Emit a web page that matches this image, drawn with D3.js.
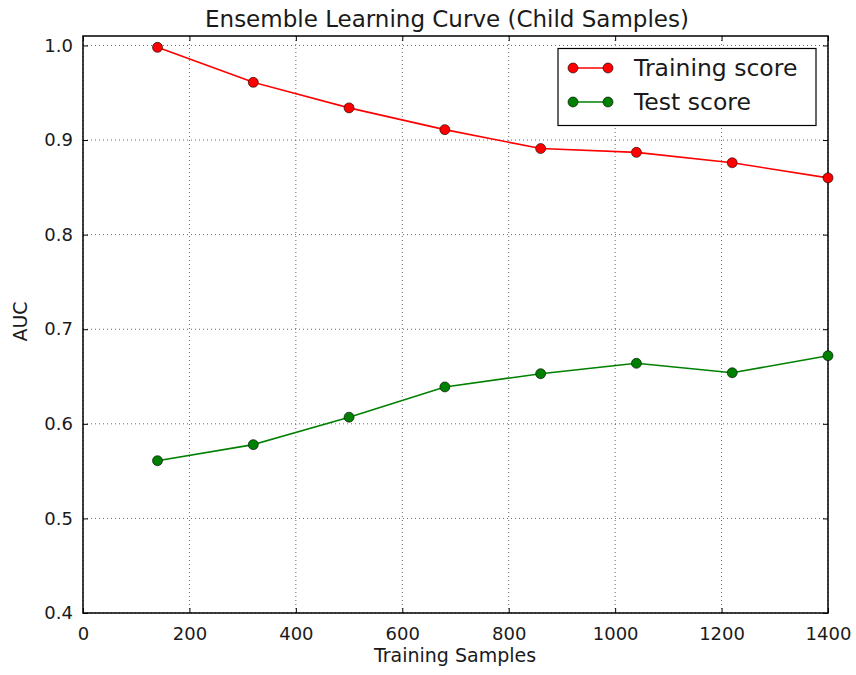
<!DOCTYPE html>
<html>
<head>
<meta charset="utf-8">
<script src="https://cdn.jsdelivr.net/npm/d3@7"></script>
<style>
  html, body { margin: 0; padding: 0; background: #fff; }
  svg { display: block; font-family: "DejaVu Sans", sans-serif; }
</style>
</head>
<body>
<svg id="chart" width="856" height="675"></svg>
<script>
const trainingSamples = [140, 320, 500, 680, 860, 1040, 1220, 1400];
const trainingScore = [0.998, 0.961, 0.934, 0.911, 0.891, 0.887, 0.876, 0.860];
const testScore = [0.561, 0.578, 0.607, 0.639, 0.653, 0.664, 0.654, 0.672];
const xTicks = [0, 200, 400, 600, 800, 1000, 1200, 1400];
const yTicks = [0.4, 0.5, 0.6, 0.7, 0.8, 0.9, 1.0];
const seriesNames = ["Training score", "Test score"];
const seriesColors = ["#ff0000", "#008000"];
const titleText = "Ensemble Learning Curve (Child Samples)";
const xLabel = "Training Samples";
const yLabel = "AUC";

const svg = d3.select("#chart");
const L = 83, R = 828, T = 36, B = 613;
const x = d3.scaleLinear().domain([0, 1400]).range([L, R]);
const y = d3.scaleLinear().domain([0.4, 1.01]).range([B, T]);

// grid
const grid = svg.append("g");
grid.selectAll("line.gx").data(xTicks).join("line")
  .attr("x1", d => x(d)).attr("x2", d => x(d)).attr("y1", T).attr("y2", B)
  .attr("stroke", "#000").attr("stroke-width", 0.6).attr("stroke-dasharray", "1,3");
grid.selectAll("line.gy").data(yTicks).join("line")
  .attr("y1", d => y(d)).attr("y2", d => y(d)).attr("x1", L).attr("x2", R)
  .attr("stroke", "#000").attr("stroke-width", 0.6).attr("stroke-dasharray", "1,3");

// axes with inward ticks on all sides
const tickLen = 5;
const xb = svg.append("g").attr("transform", `translate(0,${B})`)
  .call(d3.axisBottom(x).tickValues(xTicks).tickSizeInner(-tickLen).tickSizeOuter(0).tickPadding(10).tickFormat(d3.format("d")));
const xt = svg.append("g").attr("transform", `translate(0,${T})`)
  .call(d3.axisTop(x).tickValues(xTicks).tickSizeInner(-tickLen).tickSizeOuter(0).tickFormat(""));
const yl = svg.append("g").attr("transform", `translate(${L},0)`)
  .call(d3.axisLeft(y).tickValues(yTicks).tickSizeInner(-tickLen).tickSizeOuter(0).tickPadding(10).tickFormat(d3.format(".1f")));
const yr = svg.append("g").attr("transform", `translate(${R},0)`)
  .call(d3.axisRight(y).tickValues(yTicks).tickSizeInner(-tickLen).tickSizeOuter(0).tickFormat(""));
[xb, xt, yl, yr].forEach(g => {
  g.select(".domain").remove();
  g.selectAll(".tick line").attr("stroke", "#000").attr("stroke-width", 1);
  g.selectAll("text").attr("font-family", "DejaVu Sans").attr("font-size", 18).attr("fill", "#1a1a1a");
});
xb.selectAll("text").attr("dy", "0.95em");
yl.selectAll("text").attr("dx", "0");

// frame
svg.append("rect").attr("x", L).attr("y", T).attr("width", R - L).attr("height", B - T)
  .attr("fill", "none").attr("stroke", "#000").attr("stroke-width", 1.5);

// series
const series = [trainingScore, testScore];
const line = d3.line().x((d, i) => x(trainingSamples[i])).y(d => y(d));
series.forEach((vals, si) => {
  svg.append("path").datum(vals).attr("d", line)
    .attr("fill", "none").attr("stroke", seriesColors[si]).attr("stroke-width", 1.6);
  svg.selectAll(null).data(vals).join("circle")
    .attr("cx", (d, i) => x(trainingSamples[i])).attr("cy", d => y(d)).attr("r", 5)
    .attr("fill", seriesColors[si]).attr("stroke", "#000").attr("stroke-width", 0.6);
});

// legend
const lg = svg.append("g");
lg.append("rect").attr("x", 558).attr("y", 48.5).attr("width", 258).attr("height", 77)
  .attr("fill", "#fff").attr("stroke", "#000").attr("stroke-width", 1.2);
seriesNames.forEach((name, i) => {
  const yy = 68 + i * 34;
  lg.append("line").attr("x1", 573).attr("x2", 608).attr("y1", yy).attr("y2", yy)
    .attr("stroke", seriesColors[i]).attr("stroke-width", 1.6);
  [573, 608].forEach(cx => lg.append("circle").attr("cx", cx).attr("cy", yy).attr("r", 5)
    .attr("fill", seriesColors[i]).attr("stroke", "#000").attr("stroke-width", 0.6));
  lg.append("text").attr("x", 634).attr("y", yy).attr("dy", "0.36em")
    .attr("font-size", 23.5).attr("fill", "#1a1a1a").text(name);
});

// title & labels
svg.append("text").attr("x", 447).attr("y", 27).attr("text-anchor", "middle")
  .attr("font-size", 23).attr("fill", "#1a1a1a").text(titleText);
svg.append("text").attr("x", 455).attr("y", 662).attr("text-anchor", "middle")
  .attr("font-size", 19).attr("fill", "#1a1a1a").text(xLabel);
svg.append("text").attr("transform", `translate(27,${(T + B) / 2 - 3}) rotate(-90)`)
  .attr("text-anchor", "middle").attr("font-size", 19).attr("fill", "#1a1a1a").text(yLabel);
</script>
</body>
</html>
